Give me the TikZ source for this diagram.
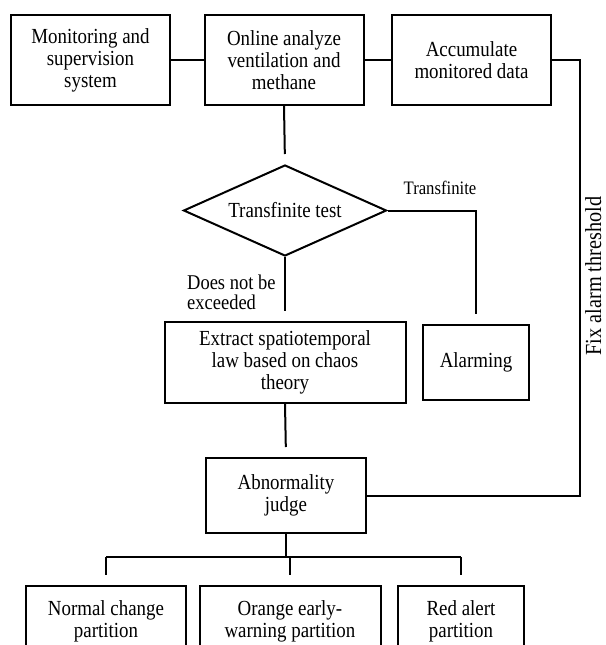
\documentclass[tikz,border=0pt]{standalone}
\usepackage{fontspec}
\setmainfont{Liberation Serif}[FakeStretch=0.88]
\usetikzlibrary{shapes.geometric}

\begin{document}
\begin{tikzpicture}[x=1pt,y=-1pt,
    box/.style={draw,line width=2pt,align=center,inner sep=0pt,font=\fontsize{21.5}{22}\selectfont},
    test/.style={draw,line width=2pt,diamond,aspect=2.23,inner sep=0pt,minimum width=203pt,minimum height=91pt,font=\fontsize{21.5}{22}\selectfont},
    note/.style={inner sep=0pt,font=\fontsize{21}{20}\selectfont},
    link/.style={line width=2pt},
    gap/.style={line width=2pt,shorten >=10pt}]
    \useasboundingbox (0,0) rectangle (605,645);
    \clip (0,0) rectangle (605,645);
    \node[box,minimum width=159pt,minimum height=90pt] (monitor) at (90.5,60) {Monitoring and\\supervision\\system};
    \node[box,minimum width=159pt,minimum height=90pt] (online) at (284,60) {Online analyze\\ventilation and\\methane};
    \node[box,minimum width=159pt,minimum height=90pt] (accum) at (471.5,60) {Accumulate\\monitored data};
    \node[test] (check) at (285,210.5) {Transfinite test};
    \node[box,minimum width=241pt,minimum height=81pt] (extract) at (285,362.5) {Extract spatiotemporal\\ law based on chaos\\theory};
    \node[box,minimum width=106pt,minimum height=75pt] (alarm) at (476,362.5) {Alarming};
    \node[box,minimum width=160pt,minimum height=75pt] (judge) at (286,495.5) {Abnormality\\judge};
    \node[box,minimum width=160pt,minimum height=70pt] (normal) at (106,621) {Normal change\\partition};
    \node[box,minimum width=181pt,minimum height=70pt] (orange) at (290,621) {Orange early-\\warning partition};
    \node[box,minimum width=126pt,minimum height=70pt] (red) at (461,621) {Red alert\\partition};
    \node[note,font=\fontsize{19}{20}\selectfont,anchor=base] (over) at (440,194) {Transfinite};
    \node[note,align=left,anchor=west] (pass) at (187,292) {Does not be\\exceeded};
    \node[note,font=\fontsize{23}{24}\selectfont,rotate=90,anchor=base] (fix) at (601,276) {Fix alarm threshold};
    \draw[link] (monitor) -- (online);
    \draw[link] (online) -- (accum);
    \draw[gap] (online.south) -- (check.north);
    \draw[gap] (check.south) -- (extract.north);
    \draw[gap] (check.east) -| (alarm.north);
    \draw[gap] (extract.south) -- (judge.north);
    \draw[link] (accum.east) -- ++(28,0) coordinate (turn) |- (judge.east);
    \draw[link] (judge.south) -- ++(0,23) coordinate (bus);
    \draw[link] (normal.north |- bus) -- (red.north |- bus);
    \foreach \part in {normal,orange,red}
        \draw[gap] (\part.north |- bus) -- (\part.north);
\end{tikzpicture}
\end{document}
